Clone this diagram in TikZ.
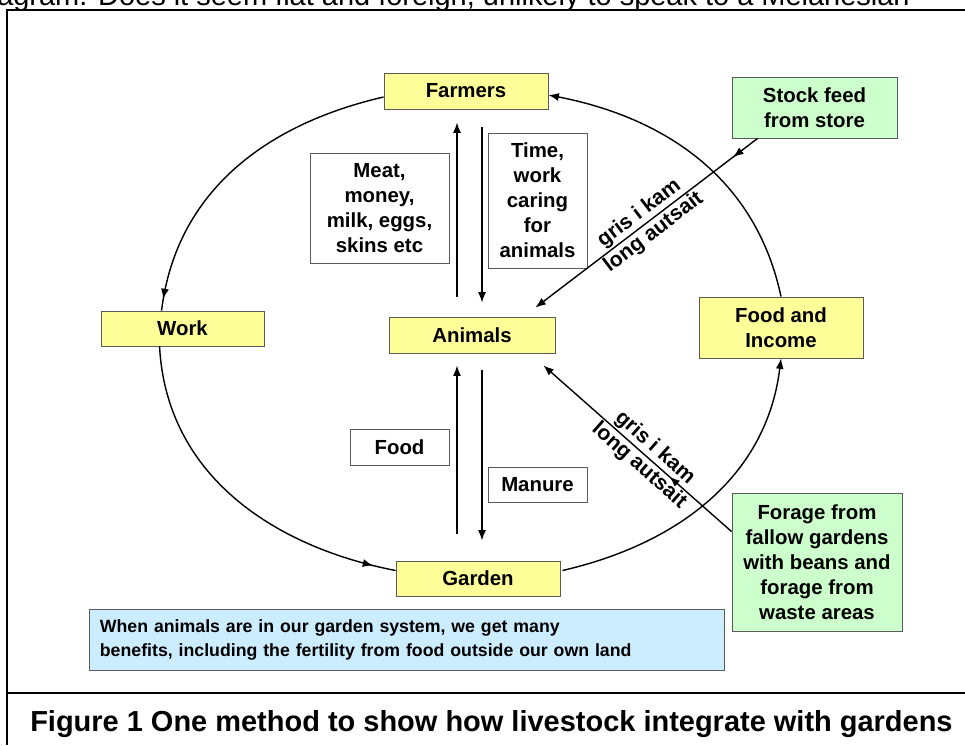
\documentclass[tikz,border=0pt]{standalone}
\usepackage{fontspec}
\setmainfont{Liberation Sans}
\usetikzlibrary{arrows.meta,calc,decorations.markings}
\definecolor{PlaceClr}{RGB}{255,255,153}
\definecolor{FeedClr}{RGB}{204,255,204}
\definecolor{NoteClr}{RGB}{204,236,255}
\definecolor{EdgeClr}{RGB}{90,90,90}

\begin{document}
\begin{tikzpicture}[x=0.025cm,y=-0.025cm,
  every node/.style={font=\bfseries\fontsize{14.5}{17.8}\selectfont,align=center,inner sep=0pt},
  place/.style={draw=EdgeClr,line width=0.6pt,fill=PlaceClr,minimum height=0.9cm},
  feed/.style={draw=EdgeClr,line width=0.6pt,fill=FeedClr},
  tag/.style={draw=EdgeClr,line width=0.6pt,fill=white},
  lbl/.style={font=\bfseries\fontsize{15}{17}\selectfont},
  arc/.style={line width=1pt},
  flow/.style={line width=1pt,-{Latex[length=2.6mm,width=2mm]}},
  tipat/.style={postaction={decorate},decoration={markings,
    mark=at position #1 with {\arrow{Latex[length=2.6mm,width=2mm]}}}}]
\useasboundingbox (0,0) rectangle (965,745);
\clip (0,0) rectangle (965,745);

% Text of the page.
\node[anchor=base east,font=\fontsize{20.6}{24}\selectfont] (intro) at (910,5)
  {agram. Does it seem flat and foreign, unlikely to speak to a Melanesian};
\draw[line width=1.8pt] (965,10) -- (7,10) -- (7,745);
\draw[line width=1.8pt] (7,693) -- (965,693);
\node[anchor=base west,font=\bfseries\fontsize{20.6}{24}\selectfont] (caption) at (30,731)
  {Figure 1 One method to show how livestock integrate with gardens};

% Places on the cycle.
\node[place,minimum width=4.1cm] (farmers) at (466,91) {Farmers};
\node[place,minimum width=4.075cm,minimum height=0.875cm] (work) at (182.5,328.5) {Work};
\node[place,minimum width=4.15cm] (animals) at (472,335) {Animals};
\node[place,minimum width=4.1cm,minimum height=0.875cm] (garden) at (478,578.5) {Garden};
\node[place,minimum width=4.1cm,minimum height=1.525cm] (income) at (781,327.5) {Food and\\Income};

% Feed from outside.
\node[feed,minimum width=4.125cm,minimum height=1.525cm] (stock) at (814.5,107.5) {Stock feed\\from store};
\node[feed,minimum width=4.25cm,minimum height=3.45cm] (forage) at (817,562)
  {Forage from\\fallow gardens\\with beans and\\forage from\\waste areas};

% Flows.
\node[tag,minimum width=3.475cm,minimum height=2.75cm] (meat) at (379.5,208) {Meat,\\money,\\milk, eggs,\\skins etc};
\node[tag,minimum width=2.475cm,minimum height=3.375cm] (time) at (537.5,200.5) {Time,\\work\\caring\\for\\animals};
\node[tag,minimum width=2.475cm,minimum height=0.9cm] (food) at (399.5,447) {Food};
\node[tag,minimum width=2.475cm,minimum height=0.875cm] (manure) at (537.5,484.5) {Manure};

\node[draw=EdgeClr,fill=NoteClr,line width=0.6pt,text width=15.35cm,inner xsep=0.25cm,
  minimum height=1.525cm,align=left,font=\bfseries\fontsize{12.6}{17}\selectfont] (note) at (407,639.5)
  {When animals are in our garden system, we get many\\benefits, including the fertility from food outside our own land};

% The cycle.
\draw[arc,tipat=0.965] ($(farmers.west)+(0,6)$) to[out=193,in=83] ($(work.north west)+(61,0)$);
\draw[arc,tipat=0.935] ($(work.south west)+(59,0)$) to[out=273,in=169] ($(garden.west)+(0,-8)$);
\draw[arc,-{Latex[length=2.6mm,width=2mm]}] ($(garden.east)+(2,-8)$) to[out=13,in=263] (income.south);
\draw[arc,-{Latex[length=2.6mm,width=2mm]}] (income.north) to[out=102,in=-11] ($(farmers.east)+(0,4)$);

% Up and down between farmers, animals and garden.
\draw[flow] ($(animals.north)+(-15,-20)$) -- ($(farmers.south)+(-9,13)$);
\draw[flow] ($(farmers.south)+(16,18)$) -- ($(animals.north)+(10,-14)$);
\draw[flow] ($(garden.north)+(-21,-27)$) -- ($(animals.south)+(-15,12)$);
\draw[flow] ($(animals.south)+(10,17)$) -- ($(garden.north)+(4,-20)$);

% Feed coming in.
\draw[flow,tipat=0.11] ($(stock.south west)+(26,0)$) -- node[sloped,lbl] {gris i kam\\long autsait}
  ($(animals.north east)+(-20,-9)$);
\draw[flow,tipat=0.33] ($(forage.north west)+(0,39)$) -- node[sloped,lbl,pos=0.45] {gris i kam\\long autsait}
  ($(animals.south east)+(-12,12)$);

\end{tikzpicture}
\end{document}
